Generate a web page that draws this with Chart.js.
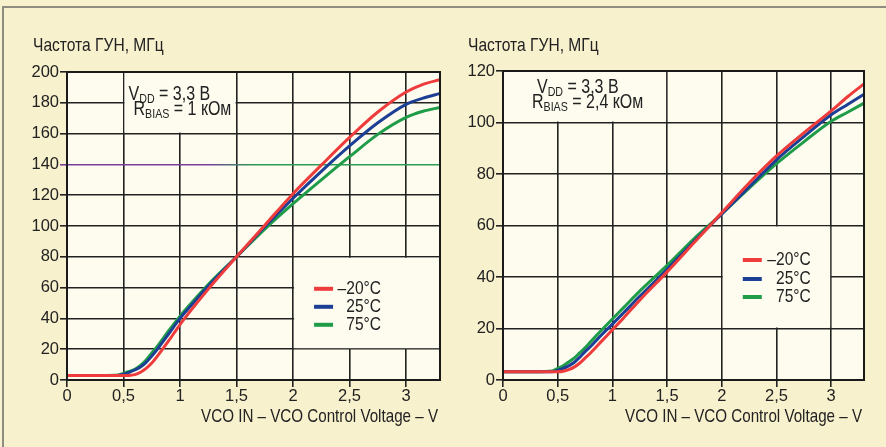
<!DOCTYPE html>
<html>
<head>
<meta charset="utf-8">
<script src="https://cdn.jsdelivr.net/npm/chart.js@4.4.1/dist/chart.umd.min.js"></script>
<style>
  html, body { margin: 0; padding: 0; }
  body { width: 886px; height: 447px; background: #f7f1cd; position: relative; overflow: hidden; }
  .edge-top { position: absolute; left: 2px; top: 6px; width: 884px; height: 2px; background: #8f8d82; }
  .edge-left { position: absolute; left: 2px; top: 6px; width: 2px; height: 441px; background: #8f8d82; }
  #left { position: absolute; left: 0; top: 0; }
  #right { position: absolute; left: 440px; top: 0; }
</style>
</head>
<body>
<div class="edge-top"></div>
<div class="edge-left"></div>
<canvas id="left" width="450" height="447"></canvas>
<canvas id="right" width="446" height="447"></canvas>
<script>
// control voltage, V
const voltage = [0, 0.3, 0.45, 0.5, 0.55, 0.6, 0.65, 0.7, 0.75, 0.8, 0.9, 1.0, 1.1, 1.25, 1.5, 1.75, 2.0, 2.25, 2.5, 2.75, 3.0, 3.15, 3.3];
const seriesLabels = ['–20°C', '25°C', '75°C'];
const seriesColors = ['#ee3b3b', '#1c3f95', '#1f9c48'];

// RBIAS = 1 kOhm, MHz
const f1kCold = [3, 3, 3, 3, 3, 3.5, 5, 7.5, 11, 15.5, 25.5, 36, 45.5, 59, 80, 100.5, 121, 139.5, 157.5, 174, 187, 192, 195];
const f1kRoom = [3, 3, 3, 3.8, 5, 6.5, 8.5, 11.5, 15.5, 20, 30, 40, 48.5, 61, 80, 99.5, 118, 135.5, 152, 167, 179, 183, 186];
const f1kHot  = [3, 3, 3.3, 4.3, 5.5, 7, 9.5, 13, 17.5, 22, 32, 41.5, 50, 62, 80, 98, 114.5, 130, 145, 159.5, 170.5, 174.5, 177];

// RBIAS = 2.4 kOhm, MHz
const f24kCold = [3.2, 3.2, 3.2, 3.2, 3.4, 4, 5, 6.5, 8.5, 10.5, 15, 19.5, 24, 31, 42, 53.5, 65, 76.5, 87, 96, 104.5, 110, 115];
const f24kRoom = [3.2, 3.2, 3.2, 3.8, 4.5, 5.5, 6.8, 8.8, 11, 13, 17.5, 21.7, 26, 32.5, 43, 54, 64.5, 75, 85.5, 94.5, 103, 107, 111];
const f24kHot  = [3.2, 3.2, 3.5, 4.5, 5.5, 7, 8.5, 10.5, 12.5, 14.8, 19.3, 23.7, 28, 34.5, 44.5, 55, 64.5, 74.5, 84, 92.5, 100.5, 104, 107.5];

const yTitle = 'Частота ГУН, МГц';
const xTitle = 'VCO IN – VCO Control Voltage – V';

const REG = "'Liberation Sans', Arial, sans-serif";
const SQUEEZE = 0.82;   // condensed look, no narrow font installed
const INK = '#222222';
const PLOT_BG = '#fdfcef';

function commaFmt(v) { return String(+v.toFixed(2)).replace('.', ','); }

// squeezed text, returns drawn width
function narrow(ctx, text, x, y, size, align) {
  ctx.save();
  ctx.font = size + 'px ' + REG;
  ctx.textBaseline = 'middle';
  ctx.textAlign = align || 'left';
  ctx.translate(x, y);
  ctx.scale(SQUEEZE, 1);
  ctx.fillText(text, 0, 0);
  const w = ctx.measureText(text).width * SQUEEZE;
  ctx.restore();
  return w;
}

function drawParts(ctx, x, y, parts) {
  for (const [t, size, dy] of parts) {
    x += narrow(ctx, t, x, y + dy, size);
  }
}

// the odd purple/green tint of one grid line in the print
function gridColor(c) {
  const hl = c.chart.options.plugins.decor.tintLine;
  const a = c.chart.chartArea;
  if (!a || !c.tick || c.tick.value !== hl) return INK;
  const g = c.chart.ctx.createLinearGradient(a.left, 0, a.right, 0);
  g.addColorStop(0, '#7a3f9c');
  g.addColorStop(0.38, '#7a3f9c');
  g.addColorStop(0.5, '#2a9a55');
  g.addColorStop(1, '#2a9a55');
  return g;
}

const decor = {
  id: 'decor',
  beforeDraw(chart, args, o) {
    const { ctx, chartArea: a } = chart;
    ctx.save();
    ctx.fillStyle = PLOT_BG;
    ctx.fillRect(a.left, a.top, a.width, a.height);
    ctx.fillStyle = INK;
    narrow(ctx, yTitle, o.titleX, 46, 19);
    narrow(ctx, xTitle, a.right - 2, 417, 18.5, 'right');
    ctx.restore();
  },
  beforeDatasetsDraw(chart, args, o) {
    const { ctx, scales: { x, y } } = chart;
    ctx.save();
    ctx.fillStyle = PLOT_BG;
    // boxes that hide the grid under the note and the legend
    for (const b of [o.noteBox, o.legendBox]) {
      const l = x.getPixelForValue(b[0]) + 1, r = x.getPixelForValue(b[1]) - 1;
      const t = y.getPixelForValue(b[3]) + 1, btm = y.getPixelForValue(b[2]) - 1;
      ctx.fillRect(l, t, r - l, btm - t);
    }
    ctx.fillStyle = INK;
    const nl = x.getPixelForValue(o.noteBox[0]);
    const nt = y.getPixelForValue(o.noteBox[3]);
    drawParts(ctx, nl + o.note[0][0], nt + o.note[0][1], [['V', 19.5, 0], ['DD', 13, 4], [' = 3,3 В', 19.5, 0]]);
    drawParts(ctx, nl + o.note[1][0], nt + o.note[1][1], [['R', 19.5, 0], ['BIAS', 13, 4], [o.rbias, 19.5, 0]]);

    const ll = x.getPixelForValue(o.legendBox[0]);
    const lt = y.getPixelForValue(o.legendBox[3]);
    seriesLabels.forEach((lab, i) => {
      const ry = lt + o.legend.rows[i];
      ctx.strokeStyle = seriesColors[i];
      ctx.lineWidth = 4;
      ctx.beginPath();
      ctx.moveTo(ll + o.legend.s0, ry);
      ctx.lineTo(ll + o.legend.s1, ry);
      ctx.stroke();
      ctx.fillStyle = INK;
      narrow(ctx, lab, ll + o.legend.tx, ry, 19, 'right');
    });
    ctx.restore();
  },
  afterDatasetsDraw(chart) {
    const { ctx, chartArea: a } = chart;
    ctx.save();
    ctx.strokeStyle = '#1a1a1a';
    ctx.lineWidth = 2;
    ctx.strokeRect(a.left, a.top, a.width, a.height);
    ctx.restore();
  }
};

function makeChart(id, series, yMax, pad, yWidth, opts) {
  const datasets = series.map((vals, i) => ({
    label: seriesLabels[i],
    data: voltage.map((v, k) => ({ x: v, y: vals[k] })),
    borderColor: seriesColors[i],
    borderWidth: 3,
    pointRadius: 0,
    cubicInterpolationMode: 'monotone',
    fill: false
  }));
  return new Chart(document.getElementById(id), {
    type: 'line',
    data: { datasets },
    plugins: [decor],
    options: {
      responsive: false,
      animation: false,
      layout: { padding: pad },
      plugins: {
        legend: { display: false },
        tooltip: { enabled: false },
        decor: opts
      },
      scales: {
        x: {
          type: 'linear', min: 0, max: 3.3,
          border: { display: false },
          grid: { color: INK, lineWidth: 1.6, tickLength: 7 },
          ticks: {
            stepSize: 0.5, includeBounds: false, padding: 0,
            color: INK, font: { family: REG, size: 16.5 },
            callback: v => commaFmt(v)
          },
          afterFit(s) { s.height = 447 - 380 - pad.bottom; }
        },
        y: {
          min: 0, max: yMax,
          border: { display: false },
          grid: { color: gridColor, lineWidth: 1.6, tickLength: 7 },
          ticks: {
            stepSize: 20, padding: 1,
            color: INK, font: { family: REG, size: 16.5 }
          },
          afterFit(s) { s.width = yWidth; }
        }
      }
    }
  });
}

makeChart('left', [f1kCold, f1kRoom, f1kHot], 200,
  { left: 0, top: 72, right: 10, bottom: 0 }, 67,
  {
    titleX: 33,
    tintLine: 140,
    noteBox: [0.5, 1.5, 160, 200],
    note: [[5, 23], [10, 38]],
    rbias: ' = 1 кОм',
    legendBox: [2, 3.3, 20, 80],
    legend: { s0: 21, s1: 40, tx: 88, rows: [32, 50, 68] }
  });

makeChart('right', [f24kCold, f24kRoom, f24kHot], 120,
  { left: 0, top: 71, right: 22, bottom: 0 }, 63,
  {
    titleX: 28,
    tintLine: null,
    noteBox: [0, 1.5, 100, 120],
    note: [[34, 17], [29, 32]],
    rbias: ' = 2,4 кОм',
    legendBox: [2, 3, 20, 60],
    legend: { s0: 21, s1: 40, tx: 89, rows: [34.5, 53.5, 71.5] }
  });
</script>
</body>
</html>
